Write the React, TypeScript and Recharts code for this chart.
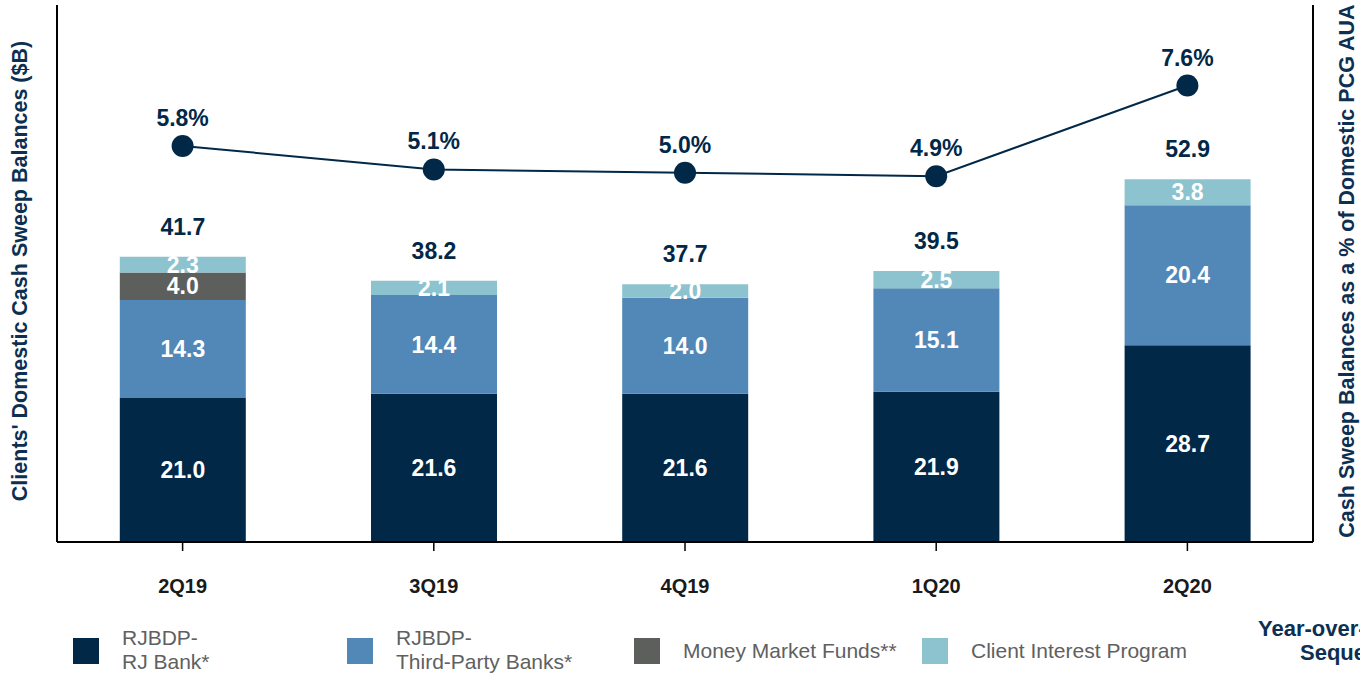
import React from "react";
import {
  ComposedChart,
  Bar,
  Line,
  XAxis,
  YAxis,
  LabelList,
} from "recharts";

// Clients' domestic cash sweep balances ($B) by quarter
const quarters = ["2Q19", "3Q19", "4Q19", "1Q20", "2Q20"];
const rjBank = [21.0, 21.6, 21.6, 21.9, 28.7];
const thirdParty = [14.3, 14.4, 14.0, 15.1, 20.4];
const moneyMarket = [4.0, null, null, null, null];
const clientInterest = [2.3, 2.1, 2.0, 2.5, 3.8];
const totals = [41.7, 38.2, 37.7, 39.5, 52.9];
// cash sweep balances as % of domestic PCG AUA
const pctAua = [5.8, 5.1, 5.0, 4.9, 7.6];

const NAVY = "#022848";
const BLUE = "#5288b7";
const GREY = "#5d5f5c";
const TEAL = "#8cc3cf";
const TITLE = "#0c2f52";
const FONT = "'Liberation Sans', Arial, sans-serif";
const NARROW = "'Liberation Sans Narrow', 'Arial Narrow', 'Liberation Sans', sans-serif";

const data = quarters.map((q, i) => ({
  q,
  rjBank: rjBank[i],
  thirdParty: thirdParty[i],
  moneyMarket: moneyMarket[i],
  clientInterest: clientInterest[i],
  total: totals[i],
  pct: pctAua[i],
}));

const legendItems = [
  { color: NAVY, lines: ["RJBDP-", "RJ Bank*"], left: 73 },
  { color: BLUE, lines: ["RJBDP-", "Third-Party Banks*"], left: 347 },
  { color: GREY, lines: ["Money Market Funds**"], left: 634 },
  { color: TEAL, lines: ["Client Interest Program"], left: 922 },
];

const segLabel = { fill: "#fff", fontSize: 23, fontWeight: 700, fontFamily: FONT };
const topLabel = { fill: NAVY, fontSize: 23, fontWeight: 700, fontFamily: FONT };
const fmt = (v: any) => (v == null || v === 0 ? "" : Number(v).toFixed(1));

const titleStyle: React.CSSProperties = {
  position: "absolute",
  top: 271,
  transform: "translate(-50%, -50%) rotate(-90deg)",
  whiteSpace: "nowrap",
  color: TITLE,
  fontWeight: 700,
  fontSize: 21.5,
};

export default function App() {
  return (
    <div
      style={{
        position: "absolute",
        left: 0,
        top: 0,
        width: 1360,
        height: 675,
        overflow: "hidden",
        background: "#fff",
        fontFamily: FONT,
      }}
    >
      <ComposedChart
        width={1360}
        height={675}
        data={data}
        margin={{ top: 5, right: 0, left: 0, bottom: 0 }}
        barCategoryGap="25%"
      >
        <XAxis
          dataKey="q"
          height={133}
          axisLine={{ stroke: "#000", strokeWidth: 2 }}
          tickLine={{ stroke: "#000", strokeWidth: 1.5 }}
          tickSize={9}
          tickMargin={28}
          tick={{ fontSize: 20, fontWeight: 700, fill: "#1a1a1a", fontFamily: FONT }}
        />
        <YAxis
          yAxisId="left"
          width={57}
          domain={[0, 78.3]}
          tick={false}
          tickLine={false}
          axisLine={{ stroke: "#000", strokeWidth: 2 }}
        />
        <YAxis
          yAxisId="right"
          orientation="right"
          width={47}
          domain={[-6, 10]}
          tick={false}
          tickLine={false}
          axisLine={{ stroke: "#000", strokeWidth: 2 }}
        />
        <Bar yAxisId="left" dataKey="rjBank" stackId="a" fill={NAVY} isAnimationActive={false}>
          <LabelList dataKey="rjBank" position="center" formatter={fmt} style={segLabel} />
        </Bar>
        <Bar yAxisId="left" dataKey="thirdParty" stackId="a" fill={BLUE} isAnimationActive={false}>
          <LabelList dataKey="thirdParty" position="center" formatter={fmt} style={segLabel} />
        </Bar>
        <Bar yAxisId="left" dataKey="moneyMarket" stackId="a" fill={GREY} isAnimationActive={false}>
          <LabelList dataKey="moneyMarket" position="center" formatter={fmt} style={segLabel} />
        </Bar>
        <Bar yAxisId="left" dataKey="clientInterest" stackId="a" fill={TEAL} isAnimationActive={false}>
          <LabelList dataKey="clientInterest" position="center" formatter={fmt} style={segLabel} />
          <LabelList dataKey="total" position="top" offset={22} formatter={fmt} style={topLabel} />
        </Bar>
        <Line
          yAxisId="right"
          dataKey="pct"
          stroke={NAVY}
          strokeWidth={2}
          dot={{ r: 11, fill: NAVY, stroke: NAVY, strokeWidth: 0 }}
          isAnimationActive={false}
        >
          <LabelList
            dataKey="pct"
            position="top"
            offset={20}
            formatter={(v: any) => `${Number(v).toFixed(1)}%`}
            style={topLabel}
          />
        </Line>
      </ComposedChart>

      {/* axis titles */}
      <div style={{ ...titleStyle, left: 20 }}>Clients' Domestic Cash Sweep Balances ($B)</div>
      <div style={{ ...titleStyle, left: 1347 }}>Cash Sweep Balances as a % of Domestic PCG AUA</div>

      {/* legend */}
      {legendItems.map((it) => (
        <React.Fragment key={it.left}>
          <div
            style={{
              position: "absolute",
              left: it.left,
              top: 638,
              width: 26,
              height: 26,
              background: it.color,
            }}
          />
          <div
            style={{
              position: "absolute",
              left: it.left + 49,
              top: it.lines.length > 1 ? 626 : 639,
              fontFamily: NARROW,
              fontSize: 21,
              color: "#606060",
              lineHeight: "24px",
              whiteSpace: "nowrap",
            }}
          >
            {it.lines.map((l) => (
              <div key={l}>{l}</div>
            ))}
          </div>
        </React.Fragment>
      ))}

      <div
        style={{
          position: "absolute",
          left: 1258,
          top: 617,
          color: TITLE,
          fontWeight: 700,
          fontSize: 22,
          lineHeight: "24px",
          whiteSpace: "nowrap",
        }}
      >
        <div>Year-over-Year</div>
        <div style={{ paddingLeft: 42 }}>Sequential</div>
      </div>
    </div>
  );
}
